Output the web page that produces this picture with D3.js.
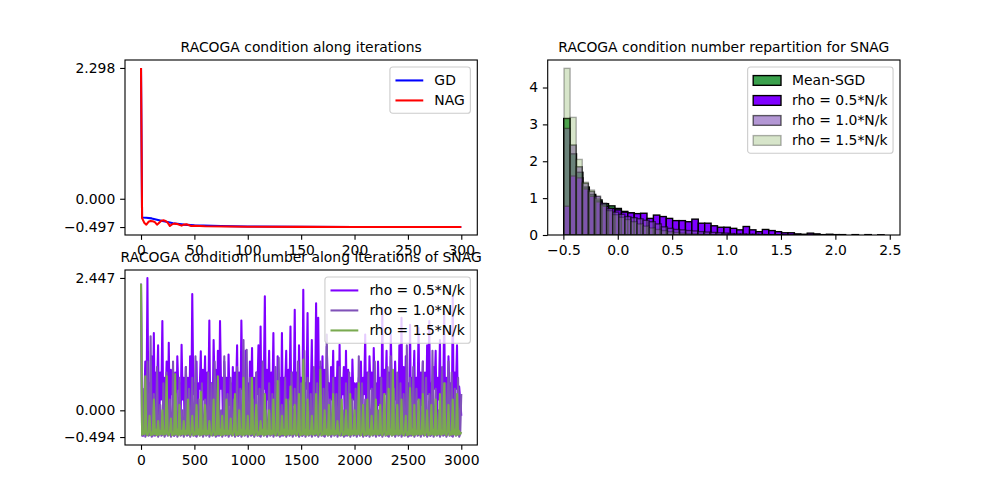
<!DOCTYPE html>
<html>
<head>
<meta charset="utf-8">
<script src="https://cdn.jsdelivr.net/npm/d3@7"></script>
<style>
body { margin: 0; background: #fff; }
text { font-family: "DejaVu Sans", sans-serif; }
</style>
</head>
<body>
<svg id="fig" width="1000" height="500"></svg>
<script>
// ---- data ----
// top left: RACOGA condition along iterations (GD / NAG)
var gdIter = [0, 1, 5, 10, 15, 20, 25, 30, 40, 50, 75, 100, 150, 200, 250, 300];
var gdVal = [2.298, -0.33, -0.335, -0.345, -0.367, -0.39, -0.41, -0.43, -0.455, -0.468, -0.48, -0.487, -0.492, -0.495, -0.496, -0.497];
var nagIter = [0, 1, 3, 5, 7, 9, 11, 13, 15, 17, 19, 21, 23, 25, 27, 29, 31, 34, 38, 40, 43, 47, 50, 60, 80, 100, 150, 200, 300];
var nagVal = [2.298, -0.34, -0.42, -0.455, -0.405, -0.392, -0.395, -0.41, -0.455, -0.42, -0.385, -0.379, -0.39, -0.42, -0.479, -0.45, -0.437, -0.445, -0.472, -0.455, -0.45, -0.479, -0.475, -0.483, -0.488, -0.491, -0.494, -0.496, -0.497];
var topYTicks = [-0.497, 0.0, 2.298];
var topXTicks = [0, 50, 100, 150, 200, 250, 300];

// bottom left: SNAG, one value every 10 iterations
var snagStep = 10;
var rho05 = [
    2.34, -0.42, -0.47, 0.1, 0.9, -0.45, 2.447, -0.35, 0.5, 0.3, 1.0, -0.47, 1.43, -0.38, 0.7, 0.4, 1.2, -0.44, 0.7, 0.2,
    1.65, -0.42, 0.6, 0.1, 0.9, -0.45, 1.25, -0.35, 0.75, 0.3, 0.7, -0.47, 0.7, -0.38, 1.0, 0.4, 0.5, -0.44, 1.21, 0.2,
    0.6, -0.42, 0.8, 0.1, 0.6, -0.45, 1.0, -0.35, 2.15, 0.3, 0.5, -0.47, 0.9, -0.38, 0.5, 0.4, 1.09, -0.44, 0.75, 0.2,
    1.0, -0.42, 0.7, 0.1, 1.66, -0.45, 0.5, -0.35, 1.3, 0.3, 0.75, -0.47, 1.1, -0.38, 1.65, 0.4, 0.6, -0.44, 0.9, 0.2,
    0.6, -0.42, 1.03, 0.1, 0.5, -0.45, 0.8, -0.35, 0.7, 0.3, 1.2, -0.47, 0.7, -0.38, 1.66, 0.4, 0.6, -0.44, 1.1, 0.2,
    0.5, -0.42, 0.9, 0.1, 1.15, -0.45, 0.6, -0.35, 0.7, 0.3, 1.2, -0.47, 1.55, -0.38, 0.8, 0.4, 2.11, -0.44, 0.75, 0.2,
    1.1, -0.42, 0.7, 0.1, 1.43, -0.45, 0.5, -0.35, 1.0, 0.3, 0.6, -0.47, 1.43, -0.38, 0.6, 0.4, 1.1, -0.44, 0.75, 0.2,
    1.55, -0.42, 0.7, 0.1, 1.86, -0.45, 0.7, -0.35, 1.2, 0.3, 0.6, -0.47, 2.23, -0.38, 0.5, 0.4, 1.80, -0.44, 0.5, 0.2,
    1.3, -0.42, 0.6, 0.1, 1.98, -0.45, 1.71, -0.35, 0.8, 0.3, 1.0, -0.47, 0.75, -0.38, 1.18, 0.4, 0.5, -0.44, 0.8, 0.2,
    1.1, -0.42, 0.6, 0.1, 0.9, -0.45, 1.21, -0.35, 0.6, 0.3, 0.8, -0.47, 1.10, -0.38, 0.75, 0.4, 0.6, -0.44, 0.94, 0.2,
    0.5, -0.42, 0.5, 0.1, 0.6, -0.45, 0.9, -0.35, 0.6, 0.3, 1.40, -0.47, 0.7, -0.38, 1.0, 0.4, 0.7, -0.44, 1.15, 0.2,
    0.5, -0.42, 0.9, 0.1, 0.6, -0.45, 1.89, -0.35, 0.75, 0.3, 1.1, -0.47, 0.7, -0.38, 1.40, 0.4, 0.7, -0.44, 0.9, 0.2,
    0.5, -0.42, 1.2, 0.1, 1.71, -0.45, 0.8, -0.35, 1.0, 0.3, 0.5, -0.47, 1.58, -0.38, 0.6, 0.4, 1.1, -0.44, 0.6, 0.2,
    1.52, -0.42, 0.7, 0.1, 0.9, -0.45, 0.7, -0.35, 1.2, 0.3, 1.65, -0.47, 0.5, -0.38, 0.8, 0.4, 1.1, -0.44, 0.6, 0.2,
    1.3, -0.42, 0.75, 0.1, 1.83, -0.45, 0.6, -0.35, 1.0, 0.3, 0.5, -0.47, 2.11, -0.38, 0.7, 0.4, 1.2, -0.44, 0.44, 0.2,
    -0.1];
var rho10 = [
    2.34, -0.47, -0.45, 0.4, -0.49, -0.44, 0.9, -0.47, -0.45, 1.37, -0.49, -0.44, 0.3, -0.47, -0.45, 0.8, -0.49, -0.44, 0.1, -0.47, -0.45, 0.5, -0.49, -0.44, 0.7, -0.47, -0.45, 0.2, -0.49, -0.44,
    0.9, -0.47, -0.45, 0.3, -0.49, -0.44, 0.6, -0.47, -0.45, 0.0, -0.49, -0.44, 0.8, -0.47, -0.45, 0.4, -0.49, -0.44, 0.6, -0.47, -0.45, 1.0, -0.49, -0.44, 0.2, -0.47, -0.45, 0.5, -0.49, -0.44,
    0.2, -0.47, -0.45, 0.7, -0.49, -0.44, 0.5, -0.47, -0.45, 0.9, -0.49, -0.44, 0.4, -0.47, -0.45, 0.0, -0.49, -0.44, 1.0, -0.47, -0.45, 0.3, -0.49, -0.44, 0.6, -0.47, -0.45, 0.2, -0.49, -0.44,
    0.8, -0.47, -0.45, 0.4, -0.49, -0.44, 1.3, -0.47, -0.45, 1.12, -0.49, -0.44, 0.6, -0.47, -0.45, 0.2, -0.49, -0.44, 0.7, -0.47, -0.45, 0.4, -0.49, -0.44, 0.9, -0.47, -0.45, 0.0, -0.49, -0.44,
    0.5, -0.47, -0.45, 0.3, -0.49, -0.44, 0.8, -0.47, -0.45, 0.97, -0.49, -0.44, 0.1, -0.47, -0.45, 0.6, -0.49, -0.44, 0.2, -0.47, -0.45, 0.7, -0.49, -0.44, 0.4, -0.47, -0.45, 0.9, -0.49, -0.44,
    0.5, -0.47, -0.45, 1.1, -0.49, -0.44, 0.6, -0.47, -0.45, 0.3, -0.49, -0.44, 0.8, -0.47, -0.45, 0.5, -0.49, -0.44, 0.9, -0.47, -0.45, 0.4, -0.49, -0.44, 1.4, -0.47, -0.45, 0.2, -0.49, -0.44,
    0.6, -0.47, -0.45, 0.3, -0.49, -0.44, 0.8, -0.47, -0.45, 0.0, -0.49, -0.44, 0.5, -0.47, -0.45, 0.7, -0.49, -0.44, 0.2, -0.47, -0.45, 0.4, -0.49, -0.44, 1.0, -0.47, -0.45, 0.5, -0.49, -0.44,
    0.2, -0.47, -0.45, 0.7, -0.49, -0.44, 0.4, -0.47, -0.45, 0.9, -0.49, -0.44, 0.0, -0.47, -0.45, 0.6, -0.49, -0.44, 0.3, -0.47, -0.45, 0.8, -0.49, -0.44, 1.0, -0.47, -0.45, 0.4, -0.49, -0.44,
    0.7, -0.47, -0.45, 0.5, -0.49, -0.44, 0.3, -0.47, -0.45, 1.2, -0.49, -0.44, 0.6, -0.47, -0.45, 0.8, -0.49, -0.44, 0.4, -0.47, -0.45, 0.2, -0.49, -0.44, 0.9, -0.47, -0.45, 0.6, -0.49, -0.44,
    0.3, -0.47, -0.45, 1.1, -0.49, -0.44, 0.4, -0.47, -0.45, 0.0, -0.49, -0.44, 0.8, -0.47, -0.45, 0.5, -0.49, -0.44, 0.9, -0.47, -0.45, 0.7, -0.49, -0.44, 0.4, -0.47, -0.45, 0.6, -0.49, -0.44,
    0.3];
var rho15 = [
    2.34, -0.45, -0.38, -0.44, 0.63, -0.43, -0.46, -0.4, -0.1, -0.46, -0.41, -0.45, 0.2, -0.44, -0.36, -0.46, -0.2, -0.45, -0.38, -0.44,
    0.0, -0.45, -0.38, -0.44, 0.63, -0.43, -0.46, -0.4, -0.15, -0.46, -0.41, -0.45, 0.67, -0.44, -0.36, -0.46, 0.1, -0.45, -0.38, -0.44,
    -0.2, -0.45, -0.38, -0.44, 0.2, -0.43, -0.46, -0.4, -0.1, -0.46, -0.41, -0.45, 0.1, -0.44, -0.36, -0.46, 0.34, -0.45, -0.38, -0.44,
    0.1, -0.45, -0.38, -0.44, -0.2, -0.43, -0.46, -0.4, 0.2, -0.46, -0.41, -0.45, 0.63, -0.44, -0.36, -0.46, -0.1, -0.45, -0.38, -0.44,
    0.2, -0.45, -0.38, -0.44, -0.15, -0.43, -0.46, -0.4, 0.3, -0.46, -0.41, -0.45, 0.0, -0.44, -0.36, -0.46, 0.6, -0.45, -0.38, -0.44,
    -0.1, -0.45, -0.38, -0.44, 0.6, -0.43, -0.46, -0.4, 0.1, -0.46, -0.41, -0.45, -0.2, -0.44, -0.36, -0.46, 0.3, -0.45, -0.38, -0.44,
    0.0, -0.45, -0.38, -0.44, 0.2, -0.43, -0.46, -0.4, 0.54, -0.46, -0.41, -0.45, -0.1, -0.44, -0.36, -0.46, 0.2, -0.45, -0.38, -0.44,
    0.44, -0.45, -0.38, -0.44, 0.1, -0.43, -0.46, -0.4, 0.3, -0.46, -0.41, -0.45, 0.94, -0.44, -0.36, -0.46, 0.2, -0.45, -0.38, -0.44,
    -0.1, -0.45, -0.38, -0.44, 0.3, -0.43, -0.46, -0.4, 0.75, -0.46, -0.41, -0.45, 0.0, -0.44, -0.36, -0.46, 0.1, -0.45, -0.38, -0.44,
    0.3, -0.45, -0.38, -0.44, -0.2, -0.43, -0.46, -0.4, 0.2, -0.46, -0.41, -0.45, 0.0, -0.44, -0.36, -0.46, 0.3, -0.45, -0.38, -0.44,
    0.0, -0.45, -0.38, -0.44, 0.5, -0.43, -0.46, -0.4, 0.1, -0.46, -0.41, -0.45, 0.2, -0.44, -0.36, -0.46, -0.1, -0.45, -0.38, -0.44,
    0.2, -0.45, -0.38, -0.44, 0.1, -0.43, -0.46, -0.4, 0.3, -0.46, -0.41, -0.45, 0.4, -0.44, -0.36, -0.46, 0.75, -0.45, -0.38, -0.44,
    0.1, -0.45, -0.38, -0.44, 0.2, -0.43, -0.46, -0.4, -0.1, -0.46, -0.41, -0.45, 0.41, -0.44, -0.36, -0.46, 0.1, -0.45, -0.38, -0.44,
    0.2, -0.45, -0.38, -0.44, 0.3, -0.43, -0.46, -0.4, 0.0, -0.46, -0.41, -0.45, 0.1, -0.44, -0.36, -0.46, 0.2, -0.45, -0.38, -0.44,
    0.3, -0.45, -0.38, -0.44, 0.5, -0.43, -0.46, -0.4, 0.1, -0.46, -0.41, -0.45, 0.2, -0.44, -0.36, -0.46, 0.3, -0.45, -0.38, -0.44,
    -0.4];
var botYTicks = [-0.494, 0.0, 2.447];
var botXTicks = [0, 500, 1000, 1500, 2000, 2500, 3000];

// top right: histograms (density), bin start and width per series
var histMeanSgd = [3.16, 2.2, 1.7, 1.3, 1.1, 0.95, 0.85, 0.79, 0.72, 0.64, 0.6, 0.5, 0.42, 0.36, 0.3, 0.26, 0.22, 0.18, 0.15, 0.12, 0.1, 0.08, 0.06, 0.05, 0.04, 0.03, 0.02, 0.015, 0.01, 0.01];
var histRho05 = [0.78, 1.6, 1.55, 1.25, 1.05, 0.9, 0.78, 0.72, 0.68, 0.62, 0.6, 0.58,
    0.59, 0.45, 0.54, 0.50, 0.45, 0.39, 0.39, 0.36, 0.43, 0.32, 0.32, 0.25, 0.21, 0.21, 0.18, 0.14, 0.23, 0.14,
    0.09, 0.15, 0.12, 0.09, 0.06, 0.06, 0.03, 0.02, 0.05, 0.03, 0.01, 0.02, 0.01,
    0.01, 0.0, 0.01, 0.0, 0.01, 0.0, 0.005];
var histRho10 = [2.89, 2.44, 1.85, 1.40, 1.18, 1.05, 0.86, 0.72, 0.62, 0.56, 0.50, 0.47, 0.44, 0.40, 0.36, 0.30, 0.22, 0.18, 0.15, 0.14, 0.12, 0.11, 0.09, 0.08, 0.07, 0.06, 0.05, 0.04, 0.03, 0.03, 0.02, 0.02, 0.015, 0.01, 0.01, 0.005];
var histRho15 = [4.52, 3.19, 2.05, 1.43, 1.22, 1.00, 0.82, 0.66, 0.55, 0.48, 0.42, 0.36, 0.30, 0.24, 0.19, 0.15, 0.12, 0.09, 0.07, 0.05, 0.04, 0.03, 0.02, 0.015, 0.01];
var histStart = [-0.497, -0.497, -0.494, -0.494];
var histWidth = [0.0589, 0.0589, 0.0559, 0.0559];
var histXTicks = [-0.5, 0.0, 0.5, 1.0, 1.5, 2.0, 2.5];
var histYTicks = [0, 1, 2, 3, 4];

var rhoLabels = ["rho = 0.5*N/k", "rho = 1.0*N/k", "rho = 1.5*N/k"];

// ---- layout (matplotlib 2x2 defaults at 1000x500) ----
var fs = 13.9;
var axW = 352.3, axH = 175;
var colX = [125, 547.7], rowY = [60, 270];
var rhoColors = ["#7f00ff", "#8052b8", "#7aaa50"];

var svg = d3.select("#fig");
svg.append("rect").attr("width", 1000).attr("height", 500).attr("fill", "#fff");

var clipCount = 0;
function panel(x0, y0) {
    var g = svg.append("g").attr("transform", `translate(${x0},${y0})`);
    var id = "clip" + (clipCount++);
    g.append("clipPath").attr("id", id)
        .append("rect").attr("width", axW).attr("height", axH);
    var plot = g.append("g").attr("clip-path", `url(#${id})`);
    return { g: g, plot: plot };
}

function styleAxis(sel) {
    sel.attr("font-family", "DejaVu Sans").attr("font-size", fs);
    sel.select(".domain").remove();
    sel.selectAll(".tick line").attr("stroke", "#000").attr("stroke-width", 1.11);
    sel.selectAll(".tick text").attr("fill", "#000");
}

function drawAxes(p, x, y, xt, yt, xf, yf, title) {
    p.g.append("g").attr("transform", `translate(0,${axH})`)
        .call(d3.axisBottom(x).tickValues(xt).tickFormat(xf).tickSize(4.86).tickPadding(4.86))
        .call(styleAxis);
    p.g.append("g")
        .call(d3.axisLeft(y).tickValues(yt).tickFormat(yf).tickSize(4.86).tickPadding(4.86))
        .call(styleAxis);
    p.g.append("rect").attr("width", axW).attr("height", axH)
        .attr("fill", "none").attr("stroke", "#000").attr("stroke-width", 1.11);
    p.g.append("text").attr("x", axW / 2).attr("y", -8.33)
        .attr("text-anchor", "middle").attr("font-size", fs).text(title);
}

function legend(p, items) {
    var pad = 5.56, handle = 27.8, gap = 11.1, rowH = 20;
    var lg = p.g.append("g");
    var box = lg.append("rect");
    var texts = items.map(function(it, i) {
        return lg.append("text").attr("font-size", fs).attr("dy", "0.36em")
            .attr("y", 13.5 + i * rowH).text(it.label);
    });
    var tw = d3.max(texts, t => t.node().getComputedTextLength());
    var bw = pad + handle + gap + tw + pad;
    var bh = 26.3 + rowH * (items.length - 1);
    lg.attr("transform", `translate(${axW - 6.95 - bw},6.95)`);
    box.attr("width", bw).attr("height", bh).attr("rx", 2.8)
        .attr("fill", "#fff").attr("fill-opacity", 0.8)
        .attr("stroke", "#cccccc").attr("stroke-width", 1.11);
    texts.forEach(t => t.attr("x", pad + handle + gap));
    items.forEach(function(it, i) {
        var cy = 13.5 + i * rowH;
        if (it.type === "line") {
            lg.append("line").attr("x1", pad).attr("x2", pad + handle)
                .attr("y1", cy).attr("y2", cy)
                .attr("stroke", it.color).attr("stroke-width", 2.08);
        } else {
            lg.append("rect").attr("x", pad).attr("y", cy - 4.86)
                .attr("width", handle).attr("height", 9.73)
                .attr("fill", it.color).attr("fill-opacity", it.alpha)
                .attr("stroke", "#000").attr("stroke-opacity", it.alpha)
                .attr("stroke-width", 1.39);
        }
    });
}

// ---- top left ----
var p1 = panel(colX[0], rowY[0]);
var x1 = d3.scaleLinear().domain([-15, 315]).range([0, axW]);
var y1 = d3.scaleLinear().domain([-0.497 - 0.13975, 2.298 + 0.13975]).range([axH, 0]);
var line1 = d3.line().x(d => x1(d[0])).y(d => y1(d[1]));
p1.plot.append("path").datum(d3.zip(gdIter, gdVal)).attr("d", line1)
    .attr("fill", "none").attr("stroke", "#0000ff").attr("stroke-width", 2.08)
    .attr("stroke-linejoin", "round");
p1.plot.append("path").datum(d3.zip(nagIter, nagVal)).attr("d", line1)
    .attr("fill", "none").attr("stroke", "#ff0000").attr("stroke-width", 2.08)
    .attr("stroke-linejoin", "round");
drawAxes(p1, x1, y1, topXTicks, topYTicks, d3.format("d"), d3.format(".3f"),
    "RACOGA condition along iterations");
legend(p1, [
    { type: "line", label: "GD", color: "#0000ff" },
    { type: "line", label: "NAG", color: "#ff0000" }
]);

// ---- top right: histograms ----
var p2 = panel(colX[1], rowY[0]);
var x2 = d3.scaleLinear().domain([-0.644, 2.594]).range([0, axW]);
var y2 = d3.scaleLinear().domain([0, 4.52 * 1.05]).range([axH, 0]);
var histSeries = [
    { h: histMeanSgd, color: "#3aa04c", alpha: 1 },
    { h: histRho05, color: rhoColors[0], alpha: 1 },
    { h: histRho10, color: rhoColors[1], alpha: 0.6 },
    { h: histRho15, color: rhoColors[2], alpha: 0.3 }
];
histSeries.forEach(function(s, k) {
    var bins = s.h.map((v, i) => ({ x0: histStart[k] + i * histWidth[k], x1: histStart[k] + (i + 1) * histWidth[k], v: v }))
        .filter(b => b.v > 0);
    p2.plot.append("g").selectAll("rect").data(bins).join("rect")
        .attr("x", b => x2(b.x0)).attr("width", b => x2(b.x1) - x2(b.x0))
        .attr("y", b => y2(b.v)).attr("height", b => y2(0) - y2(b.v))
        .attr("fill", s.color).attr("fill-opacity", s.alpha)
        .attr("stroke", "#000").attr("stroke-opacity", s.alpha)
        .attr("stroke-width", 1.39);
});
drawAxes(p2, x2, y2, histXTicks, histYTicks, d3.format(".1f"), d3.format("d"),
    "RACOGA condition number repartition for SNAG");
legend(p2, [
    { type: "patch", label: "Mean-SGD", color: "#3aa04c", alpha: 1 },
    { type: "patch", label: rhoLabels[0], color: rhoColors[0], alpha: 1 },
    { type: "patch", label: rhoLabels[1], color: rhoColors[1], alpha: 0.6 },
    { type: "patch", label: rhoLabels[2], color: rhoColors[2], alpha: 0.3 }
]);

// ---- bottom left ----
var p3 = panel(colX[0], rowY[1]);
var x3 = d3.scaleLinear().domain([-150, 3150]).range([0, axW]);
var y3 = d3.scaleLinear().domain([-0.494 - 0.147, 2.447 + 0.147]).range([axH, 0]);
var line3 = d3.line().x((d, i) => x3(i * snagStep)).y(d => y3(d));
[rho05, rho10, rho15].forEach(function(series, k) {
    p3.plot.append("path").datum(series).attr("d", line3)
        .attr("fill", "none").attr("stroke", rhoColors[k]).attr("stroke-width", 2.08)
        .attr("stroke-linejoin", "round");
});
drawAxes(p3, x3, y3, botXTicks, botYTicks, d3.format("d"), d3.format(".3f"),
    "RACOGA condition number along iterations of SNAG");
legend(p3, rhoLabels.map((l, k) => ({ type: "line", label: l, color: rhoColors[k] })));
</script>
</body>
</html>
